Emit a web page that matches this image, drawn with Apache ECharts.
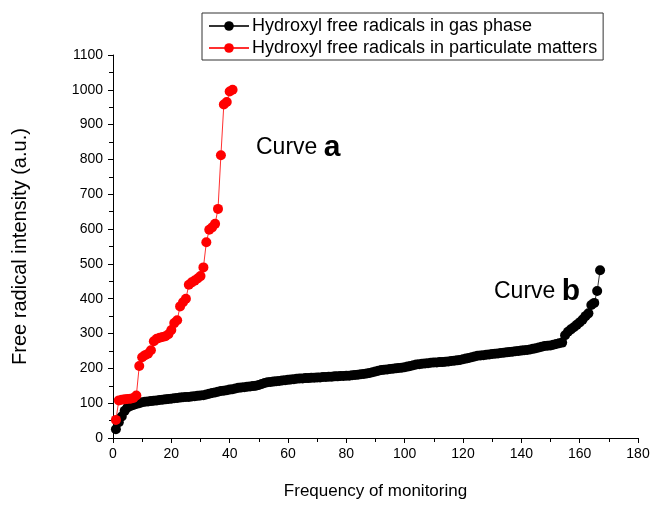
<!DOCTYPE html>
<html>
<head>
<meta charset="utf-8">
<script src="https://cdn.jsdelivr.net/npm/echarts@6/dist/echarts.min.js"></script>
<style>html,body{margin:0;padding:0;background:#fff}#c{width:660px;height:505px}</style>
</head>
<body>
<div id="c"></div>
<script>
var seriesNames = ['Hydroxyl free radicals in gas phase', 'Hydroxyl free radicals in particulate matters'];
var xTicks = [0, 20, 40, 60, 80, 100, 120, 140, 160, 180];
var yTicks = [0, 100, 200, 300, 400, 500, 600, 700, 800, 900, 1000, 1100];

// Curve b: gas phase (index 1..167)
var gasValues = [
  25, 45, 62, 78, 88, 92, 95, 98, 100, 103,
  104, 105, 106, 107, 108, 109, 110, 111, 112, 113,
  114, 115, 116, 117, 118, 118, 119, 120, 121, 122,
  123, 125, 127, 129, 131, 133, 135, 136, 137, 139,
  140, 142, 144, 145, 146, 147, 148, 149, 150, 152,
  155, 158, 160, 161, 162, 163, 164, 165, 166, 167,
  168, 169, 170, 171, 171, 172, 172, 173, 173, 174,
  174, 175, 175, 176, 176, 177, 177, 178, 178, 179,
  179, 180, 181, 182, 183, 184, 185, 187, 189, 191,
  193, 195, 196, 197, 198, 199, 200, 201, 202, 203,
  205, 207, 209, 211, 212, 213, 214, 215, 216, 217,
  217, 218, 218, 219, 220, 221, 222, 223, 224, 226,
  228, 230, 232, 234, 236, 237, 238, 239, 240, 241,
  242, 243, 244, 245, 246, 247, 248, 249, 250, 251,
  252, 253, 254, 256, 258, 260, 262, 264, 265, 266,
  268, 270, 272, 274, 295, 305, 312, 318, 325, 332,
  340, 350, 358, 382, 388, 422, 482
];

// Curve a: particulate matters (index 1..41)
var pmValues = [
  52, 108, 110, 111, 112, 113, 115, 122, 207, 232,
  238, 242, 252, 278, 285, 288, 290, 292, 298, 310,
  330, 338, 378, 390, 400, 440, 447, 452, 458, 465,
  490, 562, 598, 605, 615, 658, 812, 958, 965, 995,
  1000
];

function toPairs(vals) {
  var out = [];
  for (var i = 0; i < vals.length; i++) out.push([i + 1, vals[i]]);
  return out;
}

var FONT = '"Liberation Sans", Arial, sans-serif';
var chart = echarts.init(document.getElementById('c'), null, {renderer: 'canvas'});
chart.setOption({
  animation: false,
  backgroundColor: '#fff',
  textStyle: {fontFamily: FONT},
  grid: {left: 113, right: 22, top: 55, bottom: 62, containLabel: false},
  legend: {
    orient: 'vertical',
    left: 202, top: 13,
    width: 399,
    padding: [4, 6, 3, 6],
    itemGap: 4,
    itemWidth: 40, itemHeight: 12,
    borderColor: '#333', borderWidth: 1,
    textStyle: {fontFamily: FONT, fontSize: 18, color: '#000', padding: [0, 0, 0, -2]},
    data: [seriesNames[0], seriesNames[1]]
  },
  xAxis: {
    type: 'value', min: 0, max: 180, interval: 20,
    name: 'Frequency of monitoring', nameLocation: 'middle', nameGap: 45,
    nameTextStyle: {fontFamily: FONT, fontSize: 17, color: '#000'},
    axisLine: {show: true, onZero: false, lineStyle: {color: '#000', width: 1}},
    axisTick: {show: true, inside: false, length: 5, lineStyle: {color: '#000'}},
    minorTick: {show: true, splitNumber: 2, length: 4, lineStyle: {color: '#000'}},
    splitLine: {show: false},
    axisLabel: {fontFamily: FONT, fontSize: 14, color: '#000', margin: 9,
      formatter: function (v) { return xTicks.indexOf(v) >= 0 ? String(v) : ''; }}
  },
  yAxis: {
    type: 'value', min: 0, max: 1100, interval: 100,
    name: 'Free radical intensity (a.u.)', nameLocation: 'middle', nameGap: 83,
    nameTextStyle: {fontFamily: FONT, fontSize: 20, color: '#000'},
    axisLine: {show: true, onZero: false, lineStyle: {color: '#000', width: 1}},
    axisTick: {show: true, inside: false, length: 5, lineStyle: {color: '#000'}},
    minorTick: {show: true, splitNumber: 2, length: 4, lineStyle: {color: '#000'}},
    splitLine: {show: false},
    axisLabel: {fontFamily: FONT, fontSize: 14, color: '#000', margin: 10,
      formatter: function (v) { return yTicks.indexOf(v) >= 0 ? String(v) : ''; }}
  },
  series: [
    {
      name: seriesNames[0], type: 'line', data: toPairs(gasValues),
      symbol: 'circle', symbolSize: 10,
      itemStyle: {color: '#000'},
      lineStyle: {color: '#333', width: 1}
    },
    {
      name: seriesNames[1], type: 'line', data: toPairs(pmValues),
      symbol: 'circle', symbolSize: 10,
      itemStyle: {color: '#ff0000'},
      lineStyle: {color: '#ff3030', width: 1}
    }
  ],
  graphic: [
    {type: 'text', left: 256, top: 133, style: {
      text: '{r|Curve }{b|a}',
      rich: {r: {fontFamily: FONT, fontSize: 23, fill: '#000'},
             b: {fontFamily: FONT, fontSize: 30, fontWeight: 'bold', fill: '#000'}}
    }},
    {type: 'text', left: 494, top: 277, style: {
      text: '{r|Curve }{b|b}',
      rich: {r: {fontFamily: FONT, fontSize: 23, fill: '#000'},
             b: {fontFamily: FONT, fontSize: 30, fontWeight: 'bold', fill: '#000'}}
    }}
  ]
});
</script>
</body>
</html>
